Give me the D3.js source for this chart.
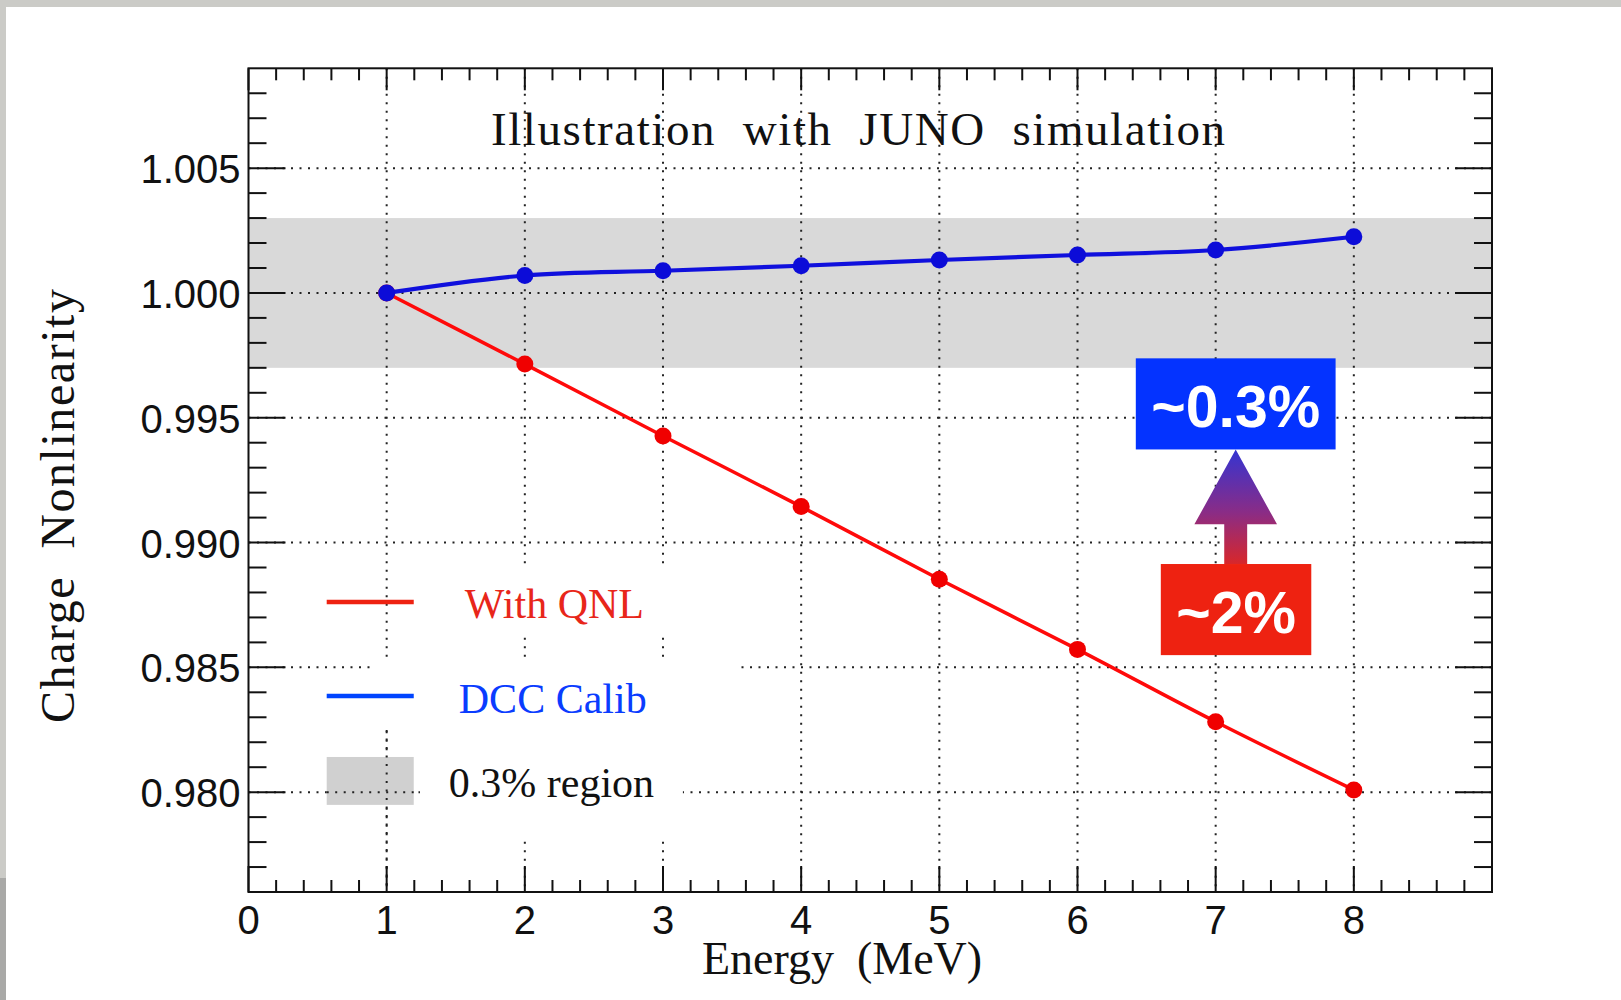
<!DOCTYPE html>
<html>
<head>
<meta charset="utf-8">
<script src="https://cdn.jsdelivr.net/npm/d3@7"></script>
<style>
  body { margin: 0; background: #fff; }
  svg { display: block; }
</style>
</head>
<body>
<svg id="chart" width="1621" height="1000"></svg>
<script>
// data
var energy   = [1, 2, 3, 4, 5, 6, 7, 8];
var withQNL  = [1.0000, 0.99715, 0.99427, 0.99144, 0.98853, 0.98572, 0.98282, 0.98009];
var dccCalib = [1.0000, 1.00070, 1.00089, 1.00109, 1.00132, 1.00152, 1.00172, 1.00225];

var bandRange  = [0.997, 1.003];   // 0.3% region
var xMajor     = [0, 1, 2, 3, 4, 5, 6, 7, 8];
var yMajor     = [1.005, 1.000, 0.995, 0.990, 0.985, 0.980];
var xGrid      = [1, 2, 3, 4, 5, 6, 7, 8];

var titleText  = "Illustration  with  JUNO  simulation";
var xLabel     = "Energy  (MeV)";
var yLabel     = "Charge  Nonlinearity";
var legendText = ["With QNL", "DCC Calib", "0.3% region"];
var boxLabels  = ["~0.3%", "~2%"];

var svg = d3.select("#chart");

// page border (slide edge)
svg.append("rect").attr("width", 1621).attr("height", 1000).attr("fill", "#cbcbc7");
svg.append("rect").attr("x", 0).attr("y", 878).attr("width", 6).attr("height", 122).attr("fill", "#a9a9a7");
svg.append("rect").attr("x", 6).attr("y", 7).attr("width", 1615).attr("height", 993).attr("fill", "#fff");

var x = d3.scaleLinear().domain([0, 9]).range([248.5, 1492]);
var y = d3.scaleLinear().domain([0.976, 1.009]).range([892, 68.3]);

var plot = svg.append("g");

// grey band
plot.append("rect")
  .attr("x", x(0)).attr("width", x(9) - x(0))
  .attr("y", y(bandRange[1])).attr("height", y(bandRange[0]) - y(bandRange[1]))
  .attr("fill", "#d9d9d9");

// dotted grid
var grid = plot.append("g")
  .attr("stroke", "#222").attr("stroke-width", 2)
  .attr("stroke-dasharray", "2,6.5");
grid.selectAll(".gx").data(xGrid).enter().append("line")
  .attr("x1", function(d) { return x(d); }).attr("x2", function(d) { return x(d); })
  .attr("y1", y(1.009)).attr("y2", y(0.976));
grid.selectAll(".gy").data(yMajor).enter().append("line")
  .attr("y1", function(d) { return y(d); }).attr("y2", function(d) { return y(d); })
  .attr("x1", x(0)).attr("x2", x(9));

// white text boxes of the legend hide the grid
var legendBoxes = [
  {x0: 1.313, x1: 3.412, y0: 0.98902, y1: 0.98622},
  {x0: 0.894, x1: 3.535, y0: 0.98521, y1: 0.98249},
  {x0: 1.241, x1: 3.144, y0: 0.98249, y1: 0.97808}
];
plot.selectAll(".lbox").data(legendBoxes).enter().append("rect")
  .attr("x", function(d) { return x(d.x0); })
  .attr("width", function(d) { return x(d.x1) - x(d.x0); })
  .attr("y", function(d) { return y(d.y0); })
  .attr("height", function(d) { return y(d.y1) - y(d.y0); })
  .attr("fill", "#fff");

// legend
var lg = plot.append("g");
lg.append("line").attr("x1", x(0.566)).attr("x2", x(1.196))
  .attr("y1", y(0.98762)).attr("y2", y(0.98762))
  .attr("stroke", "#ee2211").attr("stroke-width", 4.5);
lg.append("line").attr("x1", x(0.566)).attr("x2", x(1.196))
  .attr("y1", y(0.98385)).attr("y2", y(0.98385))
  .attr("stroke", "#0044ff").attr("stroke-width", 4.5);
lg.append("rect").attr("x", x(0.566)).attr("width", x(1.196) - x(0.566))
  .attr("y", y(0.98141)).attr("height", y(0.97949) - y(0.98141))
  .attr("fill", "#d0d0d0");
// grid stays visible through the grey swatch
lg.append("line").attr("x1", x(0.566)).attr("x2", x(1.24))
  .attr("y1", y(0.98)).attr("y2", y(0.98))
  .attr("stroke", "#222").attr("stroke-width", 2).attr("stroke-dasharray", "2,6.5");
lg.append("line").attr("x1", x(1)).attr("x2", x(1))
  .attr("y1", y(0.98249)).attr("y2", y(0.976))
  .attr("stroke", "#222").attr("stroke-width", 2).attr("stroke-dasharray", "2,6.5");

var legendPos = [
  {x: 1.566, y: 0.98698, c: "#e8261a"},
  {x: 1.522, y: 0.98317, c: "#0a3cff"},
  {x: 1.450, y: 0.97980, c: "#111"}
];
lg.selectAll(".ltxt").data(legendText).enter().append("text")
  .attr("x", function(d, i) { return x(legendPos[i].x); })
  .attr("y", function(d, i) { return y(legendPos[i].y); })
  .attr("fill", function(d, i) { return legendPos[i].c; })
  .style("font-family", "'Liberation Serif', 'Times New Roman', serif")
  .style("font-size", "42px")
  .text(function(d) { return d; });

// data lines
var line = d3.line()
  .x(function(d) { return x(d[0]); })
  .y(function(d) { return y(d[1]); })
  .curve(d3.curveCatmullRom.alpha(0.5));

var series = [
  {vals: withQNL, color: "#ff0a0a", marker: "#f00000", w: 3.5},
  {vals: dccCalib, color: "#1010dd", marker: "#0c0cd8", w: 4.2}
];
series.forEach(function(s) {
  var pts = energy.map(function(e, i) { return [e, s.vals[i]]; });
  plot.append("path").datum(pts)
    .attr("fill", "none").attr("stroke", s.color).attr("stroke-width", s.w)
    .attr("d", line);
  plot.selectAll(null).data(pts).enter().append("circle")
    .attr("cx", function(d) { return x(d[0]); })
    .attr("cy", function(d) { return y(d[1]); })
    .attr("r", 8.5).attr("fill", s.marker);
});

// frame and ticks
var axes = svg.append("g").attr("stroke", "#111").attr("stroke-width", 2);
function minorRange(a, b, step) {
  return d3.range(Math.round((b - a) / step) + 1).map(function(i) { return +(a + i * step).toFixed(4); });
}
var xMinor = minorRange(0, 9, 0.2).filter(function(v) { return Math.abs(v - Math.round(v)) > 1e-6; });
var yMinor = minorRange(0.977, 1.008, 0.001).filter(function(v) {
  return yMajor.every(function(m) { return Math.abs(m - v) > 1e-6; });
});

function ticks(vals, len, side) {
  axes.selectAll(null).data(vals).enter().append("line")
    .attr("x1", function(d) {
      if (side === "left") return x(0);
      if (side === "right") return x(9);
      return x(d);
    })
    .attr("x2", function(d) {
      if (side === "left") return x(0) + len;
      if (side === "right") return x(9) - len;
      return x(d);
    })
    .attr("y1", function(d) {
      if (side === "bottom") return y(0.976);
      if (side === "top") return y(1.009);
      return y(d);
    })
    .attr("y2", function(d) {
      if (side === "bottom") return y(0.976) - len;
      if (side === "top") return y(1.009) + len;
      return y(d);
    });
}
ticks(xMajor, 26, "bottom");
ticks(xMinor, 12, "bottom");
ticks(xMajor, 22, "top");
ticks(xMinor, 12, "top");
ticks(yMajor, 37, "left");
ticks(yMinor, 18, "left");
ticks(yMajor, 37, "right");
ticks(yMinor, 18, "right");

axes.append("rect")
  .attr("x", x(0)).attr("y", y(1.009))
  .attr("width", x(9) - x(0)).attr("height", y(0.976) - y(1.009))
  .attr("fill", "none");

// tick labels
var labelFont = "'Liberation Sans', Arial, Helvetica, sans-serif";
svg.append("g").selectAll("text").data(yMajor).enter().append("text")
  .attr("x", x(0) - 8)
  .attr("y", function(d) { return y(d) + 15; })
  .attr("text-anchor", "end")
  .style("font-family", labelFont).style("font-size", "40px").attr("fill", "#111")
  .text(function(d) { return d3.format(".3f")(d); });
svg.append("g").selectAll("text").data(xMajor).enter().append("text")
  .attr("x", function(d) { return x(d); })
  .attr("y", 934)
  .attr("text-anchor", "middle")
  .style("font-family", labelFont).style("font-size", "40px").attr("fill", "#111")
  .text(function(d) { return d; });

// titles
var serif = "'Liberation Serif', 'Times New Roman', serif";
svg.append("text")
  .attr("x", 491).attr("y", 145)
  .attr("textLength", 734).attr("lengthAdjust", "spacing")
  .style("font-family", serif).style("font-size", "47px").style("white-space", "pre")
  .attr("fill", "#111")
  .text(titleText);
svg.append("text")
  .attr("x", 842).attr("y", 974).attr("text-anchor", "middle")
  .style("font-family", serif).style("font-size", "46px").style("white-space", "pre")
  .attr("fill", "#111")
  .text(xLabel);
svg.append("text")
  .attr("transform", "translate(73.5,506) rotate(-90)")
  .attr("x", -217).attr("y", 0)
  .attr("textLength", 434).attr("lengthAdjust", "spacing")
  .style("font-family", serif).style("font-size", "48px").style("white-space", "pre")
  .attr("fill", "#111")
  .text(yLabel);

// annotation: ~2% -> ~0.3%
var annBoxes = [
  {x0: 6.422, x1: 7.868, y0: 0.99738, y1: 0.99373, fill: "#0433ff"},
  {x0: 6.603, x1: 7.692, y0: 0.98914, y1: 0.98549, fill: "#ee2211"}
];
var defs = svg.append("defs");
var grad = defs.append("linearGradient").attr("id", "arrowGrad")
  .attr("x1", 0).attr("y1", 0).attr("x2", 0).attr("y2", 1);
grad.append("stop").attr("offset", "0%").attr("stop-color", "#3434d2");
grad.append("stop").attr("offset", "55%").attr("stop-color", "#8a2c86");
grad.append("stop").attr("offset", "100%").attr("stop-color", "#d8272a");

var ax = 7.145, headHalf = 0.299, shaftHalf = 0.083, headBase = 0.99073;
var arrowPts = [
  [ax, annBoxes[0].y1],
  [ax + headHalf, headBase],
  [ax + shaftHalf, headBase],
  [ax + shaftHalf, annBoxes[1].y0],
  [ax - shaftHalf, annBoxes[1].y0],
  [ax - shaftHalf, headBase],
  [ax - headHalf, headBase]
];
svg.append("path")
  .attr("d", d3.line().x(function(d) { return x(d[0]); }).y(function(d) { return y(d[1]); })(arrowPts) + "Z")
  .attr("fill", "url(#arrowGrad)");

var ann = svg.append("g");
ann.selectAll("rect").data(annBoxes).enter().append("rect")
  .attr("x", function(d) { return x(d.x0); })
  .attr("width", function(d) { return x(d.x1) - x(d.x0); })
  .attr("y", function(d) { return y(d.y0); })
  .attr("height", function(d) { return y(d.y1) - y(d.y0); })
  .attr("fill", function(d) { return d.fill; });
ann.selectAll("text").data(annBoxes).enter().append("text")
  .attr("x", function(d) { return (x(d.x0) + x(d.x1)) / 2; })
  .attr("y", function(d) { return (y(d.y0) + y(d.y1)) / 2 + 23; })
  .attr("text-anchor", "middle")
  .attr("fill", "#fff")
  .style("font-family", labelFont).style("font-weight", "bold").style("font-size", "59px")
  .text(function(d, i) { return boxLabels[i]; });
</script>
</body>
</html>
